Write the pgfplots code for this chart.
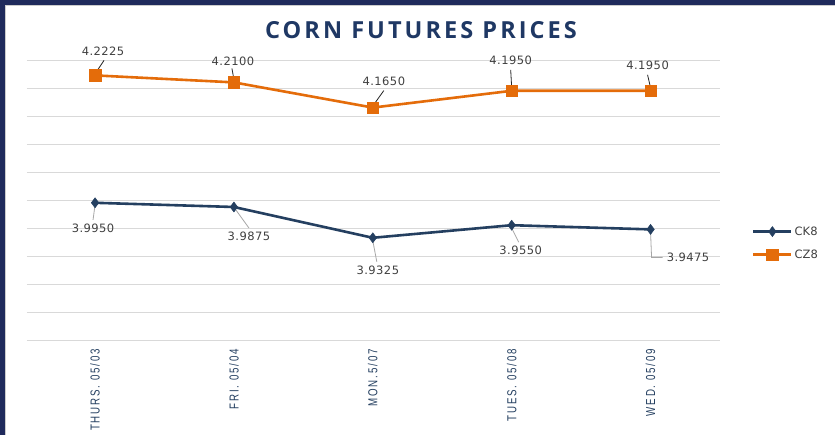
\documentclass[border=0pt]{standalone}
\usepackage{pgfplots}
\pgfplotsset{compat=1.18}
\usepackage{fontspec}
\setmainfont{DejaVu Sans}
\newfontfamily\titlefont[LetterSpace=13,BoldFeatures={LetterSpace=13}]{Open Sans}
\newfontfamily\tickfont[FakeStretch=0.75,LetterSpace=14]{Liberation Sans}
\newfontfamily\lblfont[LetterSpace=4]{DejaVu Sans}
\definecolor{navy}{HTML}{243F60}
\definecolor{titlenavy}{HTML}{1F3864}
\definecolor{frame}{HTML}{1F2A5C}
\definecolor{orangeS}{HTML}{E46C0A}
\definecolor{gridc}{HTML}{D9D9D9}
\definecolor{lbl}{HTML}{404040}
\begin{document}
\begin{tikzpicture}[x=1pt,y=1pt]
\useasboundingbox (0,0) rectangle (835,435);
\fill[white] (0,0) rectangle (835,435);
\fill[frame] (0,430) rectangle (835,435);
\fill[frame] (0,0) rectangle (5,435);
\draw[gray!40, line width=1pt] (5,429.5) -- (835,429.5);
\draw[gray!40, line width=1pt] (5.5,0) -- (5.5,429.5);
\node[font=\titlefont\bfseries\fontsize{23.5}{25}\selectfont, text=titlenavy] at (421,405) {CORN FUTURES PRICES};
\begin{axis}[
  at={(27pt,95pt)}, anchor=south west,
  scale only axis, width=693pt, height=280pt,
  xmin=-0.49, xmax=4.5, ymin=3.75, ymax=4.25,
  axis line style={draw=none},
  ytick={3.75,3.80,3.85,3.90,3.95,4.00,4.05,4.10,4.15,4.20,4.25},
  yticklabels={},
  ymajorgrids, grid style={gridc, line width=0.8pt},
  major tick length=0pt,
  xtick={0,1,2,3,4},
  xticklabels={THURS. 05/03, FRI. 05/04, MON.5/07, TUES. 05/08, WED. 05/09},
  xticklabel style={rotate=90, anchor=east, font=\tickfont\fontsize{13}{14}\selectfont, text=navy, inner sep=0pt},
  xticklabel shift=9pt,
  clip=false,
  legend style={at={(1.046,0.346)}, anchor=west, draw=none, fill=none,
     font=\fontsize{11.5}{13}\selectfont, text=lbl, row sep=9pt, inner sep=0pt,
     legend cell align=left},
  legend image code/.code={
     \draw[#1,mark=none] (0pt,0pt) -- (38pt,0pt);
     \draw[#1,only marks] plot coordinates {(19pt,0pt)};},
]
\addplot[navy, line width=2.6pt, mark=diamond*, mark size=5pt, mark options={fill=navy, line width=0.5pt}]
  coordinates {(0,3.9950) (1,3.9875) (2,3.9325) (3,3.9550) (4,3.9475)};
\addlegendentry{CK8}
\addplot[orangeS, line width=2.6pt, mark=square*, mark size=5.8pt, mark options={fill=orangeS, line width=0.5pt}]
  coordinates {(0,4.2225) (1,4.2100) (2,4.1650) (3,4.1950) (4,4.1950)};
\addlegendentry{CZ8}
% CZ8 labels
\begin{scope}[font=\lblfont\fontsize{11.5}{13}\selectfont]
\draw[black!85, line width=0.8pt] ([shift={(1pt,3pt)}]axis cs:0,4.2225) -- ([shift={(9pt,15pt)}]axis cs:0,4.2225);
\node[text=lbl] at ([shift={(8pt,24pt)}]axis cs:0,4.2225) {4.2225};
\draw[black!85, line width=0.8pt] ([shift={(0pt,3pt)}]axis cs:1,4.2100) -- ([shift={(-2pt,14pt)}]axis cs:1,4.2100);
\node[text=lbl] at ([shift={(-1pt,21pt)}]axis cs:1,4.2100) {4.2100};
\draw[black!85, line width=0.8pt] ([shift={(1pt,3pt)}]axis cs:2,4.1650) -- ([shift={(11pt,17pt)}]axis cs:2,4.1650);
\node[text=lbl] at ([shift={(11pt,26pt)}]axis cs:2,4.1650) {4.1650};
\draw[black!85, line width=0.8pt] ([shift={(0pt,3pt)}]axis cs:3,4.1950) -- ([shift={(-1pt,21pt)}]axis cs:3,4.1950);
\node[text=lbl] at ([shift={(-1pt,30pt)}]axis cs:3,4.1950) {4.1950};
\draw[black!85, line width=0.8pt] ([shift={(0pt,3pt)}]axis cs:4,4.1950) -- ([shift={(-3pt,16pt)}]axis cs:4,4.1950);
\node[text=lbl] at ([shift={(-3pt,25pt)}]axis cs:4,4.1950) {4.1950};
% CK8 labels
\draw[gray!70, line width=0.8pt] ([shift={(0pt,-2pt)}]axis cs:0,3.9950) -- ([shift={(-2pt,-17pt)}]axis cs:0,3.9950);
\node[text=lbl] at ([shift={(-2pt,-26pt)}]axis cs:0,3.9950) {3.9950};
\draw[gray!70, line width=0.8pt] ([shift={(2pt,-3pt)}]axis cs:1,3.9875) -- ([shift={(15pt,-21pt)}]axis cs:1,3.9875);
\node[text=lbl] at ([shift={(15pt,-29pt)}]axis cs:1,3.9875) {3.9875};
\draw[gray!70, line width=0.8pt] ([shift={(0pt,-3pt)}]axis cs:2,3.9325) -- ([shift={(4pt,-24pt)}]axis cs:2,3.9325);
\node[text=lbl] at ([shift={(5pt,-33pt)}]axis cs:2,3.9325) {3.9325};
\draw[gray!70, line width=0.8pt] ([shift={(0pt,-3pt)}]axis cs:3,3.9550) -- ([shift={(7pt,-17pt)}]axis cs:3,3.9550);
\node[text=lbl] at ([shift={(9pt,-25pt)}]axis cs:3,3.9550) {3.9550};
\draw[gray!70, line width=0.8pt] ([shift={(0pt,-3pt)}]axis cs:4,3.9475) -- ([shift={(1pt,-28pt)}]axis cs:4,3.9475) -- ([shift={(12pt,-28pt)}]axis cs:4,3.9475);
\node[text=lbl, anchor=west, inner sep=0pt] at ([shift={(16pt,-28pt)}]axis cs:4,3.9475) {3.9475};
\end{scope}
\end{axis}
\end{tikzpicture}
\end{document}
